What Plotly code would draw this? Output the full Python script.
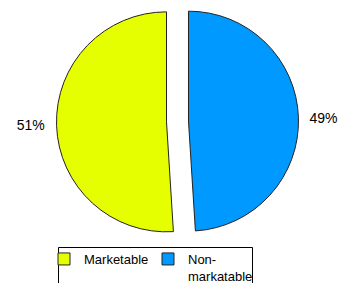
import plotly.graph_objects as go

# slices listed clockwise from 12 o'clock (right slice first)
labels = ["Non-<br>markatable", "Marketable"]
values = [49, 51]
colors = ["#0099FF", "#E5FF00"]
pulls = [0.1, 0.1]
NB2 = "\u00a0\u00a0"
EN = "\u2002"
text_templates = [EN + "%{percent:.0%}", "%{percent:.0%}" + NB2]

W, H = 341, 283

fig = go.Figure(go.Pie(
    labels=labels,
    values=values,
    sort=False,
    direction="clockwise",
    rotation=0,
    pull=pulls,
    marker=dict(colors=colors, line=dict(color="#222222", width=1)),
    textinfo="percent",
    texttemplate=text_templates,
    textposition="outside",
    outsidetextfont=dict(family="Liberation Sans, Arial", size=14, color="black"),
    domain=dict(x=[56.5 / W, 298.5 / W], y=[1 - 242.5 / H, 1 - 0.5 / H]),
    hoverinfo="none",
))

fig.update_layout(
    width=W, height=H,
    margin=dict(l=0, r=0, t=0, b=0, autoexpand=False),
    paper_bgcolor="white",
    plot_bgcolor="white",
    font=dict(family="Liberation Sans, Arial", size=13, color="black"),
    showlegend=True,
    legend=dict(
        orientation="h",
        traceorder="reversed",
        valign="top",
        x=44 / W, xanchor="left",
        y=1 - 244 / H, yanchor="top",
        borderwidth=0,
        bgcolor="rgba(0,0,0,0)",
        font=dict(family="Liberation Sans, Arial", size=13, color="black"),
        itemwidth=30,
        entrywidth=59,
        entrywidthmode="pixels",
        tracegroupgap=0,
    ),
    shapes=[dict(
        type="rect", xref="paper", yref="paper",
        x0=58.5 / W, x1=252.5 / W, y0=-0.05, y1=1 - 247.5 / H,
        line=dict(color="black", width=1), fillcolor="rgba(0,0,0,0)",
    )],
)

fig.write_html("out.html", config={"displayModeBar": False},
               post_script="document.body.style.margin='0';")
